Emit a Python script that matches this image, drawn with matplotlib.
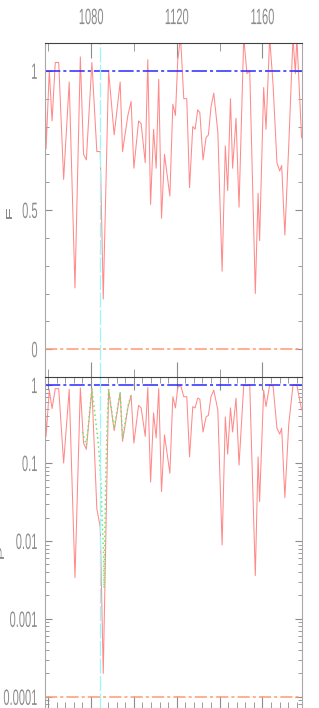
import numpy as np
import matplotlib
matplotlib.use("Agg")
import matplotlib.pyplot as plt
from matplotlib.ticker import MultipleLocator, LogLocator, NullFormatter, FixedLocator
from matplotlib.patheffects import AbstractPathEffect
from matplotlib.transforms import Affine2D, Bbox

# ---- data ----
wave = [1058.5, 1059.0, 1060.5, 1061.8, 1063.3, 1064.9, 1067.2, 1069.8, 1072.5, 1075.0,
        1076.5, 1077.8, 1080.4, 1082.7, 1084.3, 1085.7, 1088.2, 1090.8, 1093.6, 1094.7,
        1097.2, 1098.7, 1100.0, 1102.2, 1103.4, 1105.3, 1106.5, 1107.8, 1109.2, 1110.4,
        1111.6, 1112.9, 1114.3, 1116.8, 1118.2, 1119.4, 1120.5, 1121.8, 1123.3, 1124.7,
        1126.0, 1127.5, 1128.6, 1129.8, 1130.8, 1132.3, 1133.7, 1134.8, 1136.0, 1137.3,
        1139.2, 1141.2, 1142.7, 1143.8, 1145.1, 1146.1, 1147.7, 1149.1, 1151.3, 1152.8,
        1154.1, 1156.7, 1158.0, 1158.7, 1160.6, 1161.7, 1163.4, 1165.0, 1166.8, 1168.1,
        1169.0, 1170.5, 1172.3, 1174.3, 1175.4, 1176.1, 1178.3]

flux = [0.99, 0.72, 1.00, 0.82, 1.03, 1.03, 0.61, 0.96, 0.22, 1.05,
        0.70, 0.68, 1.03, 0.71, 0.71, 0.18, 1.00, 0.77, 0.96, 0.71,
        0.84, 0.89, 0.65, 0.82, 0.81, 0.67, 1.04, 0.52, 0.79, 0.65,
        0.97, 0.47, 0.70, 0.55, 0.88, 0.84, 1.04, 1.12, 0.90, 0.90,
        0.58, 0.80, 0.79, 0.86, 0.85, 0.68, 0.76, 0.77, 0.87, 0.92,
        0.78, 0.28, 0.73, 0.57, 0.90, 0.65, 0.83, 0.51, 1.12, 0.99,
        1.00, 0.20, 0.56, 0.39, 0.94, 0.79, 1.12, 0.95, 0.67, 0.64,
        0.66, 0.41, 0.73, 1.12, 0.99, 1.12, 0.76]

p_less = [0.74, 0.22, 0.86, 0.50, 0.90, 0.90, 0.10, 0.88, 0.0034, 0.92,
          0.18, 0.15, 0.90, 0.026, 0.015, 0.0002, 0.88, 0.26, 0.80, 0.19,
          0.51, 0.74, 0.18, 0.55, 0.51, 0.22, 0.93, 0.057, 0.44, 0.21,
          0.90, 0.043, 0.23, 0.074, 0.71, 0.51, 0.93, 1.0, 0.71, 0.71,
          0.12, 0.53, 0.51, 0.68, 0.66, 0.25, 0.39, 0.41, 0.71, 0.86,
          0.48, 0.0089, 0.39, 0.13, 0.51, 0.25, 0.68, 0.094, 1.0, 0.98,
          1.0, 0.0036, 0.12, 0.032, 0.86, 0.53, 1.0, 0.97, 0.28, 0.235,
          0.28, 0.036, 0.31, 1.0, 1.0, 1.0, 0.48]

wave_alt = [1076.0, 1077.8, 1080.4, 1082.0, 1083.2, 1083.8, 1084.7, 1085.1, 1085.9, 1086.1,
            1086.4, 1086.9, 1087.5, 1088.2, 1090.8, 1093.6, 1094.7, 1097.2, 1098.7]
p_alt = [0.25, 0.17, 0.90, 0.38, 0.20, 0.13, 0.052, 0.021, 0.0066, 0.0025,
         0.0098, 0.07, 0.30, 0.88, 0.28, 0.82, 0.21, 0.53, 0.76]

line_center = 1084.0
xlim = (1058.5, 1178.5)


class Squeeze(AbstractPathEffect):
    """squash text horizontally (the reference text is drawn very narrow)"""
    def __init__(self, sx=0.5, anchor='center'):
        super().__init__()
        self.sx = sx
        self.anchor = anchor

    def draw_path(self, renderer, gc, tpath, affine, rgbFace=None):
        ext = tpath.get_extents(affine)
        x0 = ext.x1 if self.anchor == 'right' else 0.5 * (ext.x0 + ext.x1)
        sq = Affine2D().translate(-x0, 0).scale(self.sx, 1).translate(x0, 0)
        renderer.draw_path(gc, tpath, affine + sq, rgbFace)


def squeeze_text(t, sx, anchor):
    # draw narrow and report the narrow box too
    t.set_path_effects([Squeeze(sx, anchor)])
    orig = t.get_window_extent

    def extent(renderer=None, dpi=None):
        bb = orig(renderer, dpi)
        if anchor == 'right':
            return Bbox.from_extents(bb.x1 - sx * bb.width, bb.y0, bb.x1, bb.y1)
        c = 0.5 * (bb.x0 + bb.x1)
        return Bbox.from_extents(c - 0.5 * sx * bb.width, bb.y0,
                                 c + 0.5 * sx * bb.width, bb.y1)
    t.get_window_extent = extent


plt.rcParams['font.family'] = ['Liberation Sans', 'DejaVu Sans']
GREY = '#8c8c8c'
RED = '#ff8a8a'
BLUE = '#2828ff'
ORANGE = '#ff9a70'
CYAN = '#9af7f7'
GREEN = '#66ea66'

fig = plt.figure(figsize=(3.19, 7.08), dpi=100)
ax1 = fig.add_axes([45 / 319, 331 / 708, 257 / 319, 334 / 708])
ax2 = fig.add_axes([45 / 319, 0.0, 257 / 319, 331 / 708])


def style(ax):
    for side in ['left', 'right', 'bottom']:
        ax.spines[side].set_color('#a8a8a8')
    ax.spines['top'].set_color('#404040')
    ax.tick_params(which='both', direction='in', top=True, right=True,
                   color=GREY, labelcolor=GREY, labelsize=16)
    ax.tick_params(axis='y', which='major', length=5, pad=5)
    ax.tick_params(axis='y', which='minor', length=3)


# top panel: flux
ax1.plot(wave, flux, color=RED, lw=0.75)
ax1.axhline(1.0, color=BLUE, lw=1.1, ls=(0, (10, 2, 2, 2)))
ax1.axhline(0.0, color=ORANGE, lw=1.1, ls=(0, (8, 2, 2, 2)))
ax1.axvline(line_center, color=CYAN, lw=0.9, ls=(0, (12, 2)))
ax1.set_xlim(*xlim)
ax1.set_ylim(-0.1, 1.1)
style(ax1)
ax1.spines['bottom'].set_visible(False)
ax1.xaxis.set_major_locator(MultipleLocator(40))
ax1.xaxis.set_minor_locator(MultipleLocator(20))
ax1.tick_params(axis='x', which='major', length=11, labeltop=True, labelbottom=False, pad=10)
ax1.tick_params(axis='x', which='minor', length=5.5)
ax1.yaxis.set_major_locator(FixedLocator([0, 0.5, 1]))
ax1.yaxis.set_minor_locator(MultipleLocator(0.1))
ax1.set_yticklabels(['0', '0.5', '1'])
ax1.set_ylabel('F', color=GREY, fontsize=15)
ax1.yaxis.set_label_coords(-0.111, 0.486)

# bottom panel: probability
ax2.plot(wave, p_less, color=RED, lw=0.75)
ax2.plot(wave_alt, p_alt, color=GREEN, lw=1.1, ls=(0, (1, 2)))
ax2.axhline(1.0, color=BLUE, lw=1.1, ls=(0, (10, 2, 2, 2)))
ax2.axhline(1e-4, color=ORANGE, lw=1.1, ls=(0, (8, 2, 2, 2)))
ax2.axvline(line_center, color=CYAN, lw=0.9, ls=(0, (12, 2)))
ax2.set_yscale('log')
ax2.set_xlim(*xlim)
ax2.set_ylim(7.2e-5, 1.27)
style(ax2)
ax2.xaxis.set_major_locator(MultipleLocator(20))
ax2.xaxis.set_minor_locator(MultipleLocator(4))
ax2.tick_params(axis='x', which='major', length=9, labelbottom=False)
ax2.tick_params(axis='x', which='minor', length=4.5)
ax2.yaxis.set_major_locator(FixedLocator([1e-4, 1e-3, 1e-2, 1e-1, 1]))
ax2.yaxis.set_minor_locator(LogLocator(base=10, subs=np.arange(2, 10), numticks=20))
ax2.yaxis.set_minor_formatter(NullFormatter())
ax2.set_yticklabels(['0.0001', '0.001', '0.01', '0.1', '1'])
ax2.set_ylabel('P$^<$', color=GREY, fontsize=15)
ax2.yaxis.set_label_coords(-0.144, 0.49)

for lab in ax1.get_xticklabels():
    squeeze_text(lab, 0.5, 'center')
for ax in (ax1, ax2):
    for lab in ax.get_yticklabels():
        squeeze_text(lab, 0.5, 'right')
    squeeze_text(ax.yaxis.label, 0.45, 'right')

fig.savefig('out.png', dpi=100)
